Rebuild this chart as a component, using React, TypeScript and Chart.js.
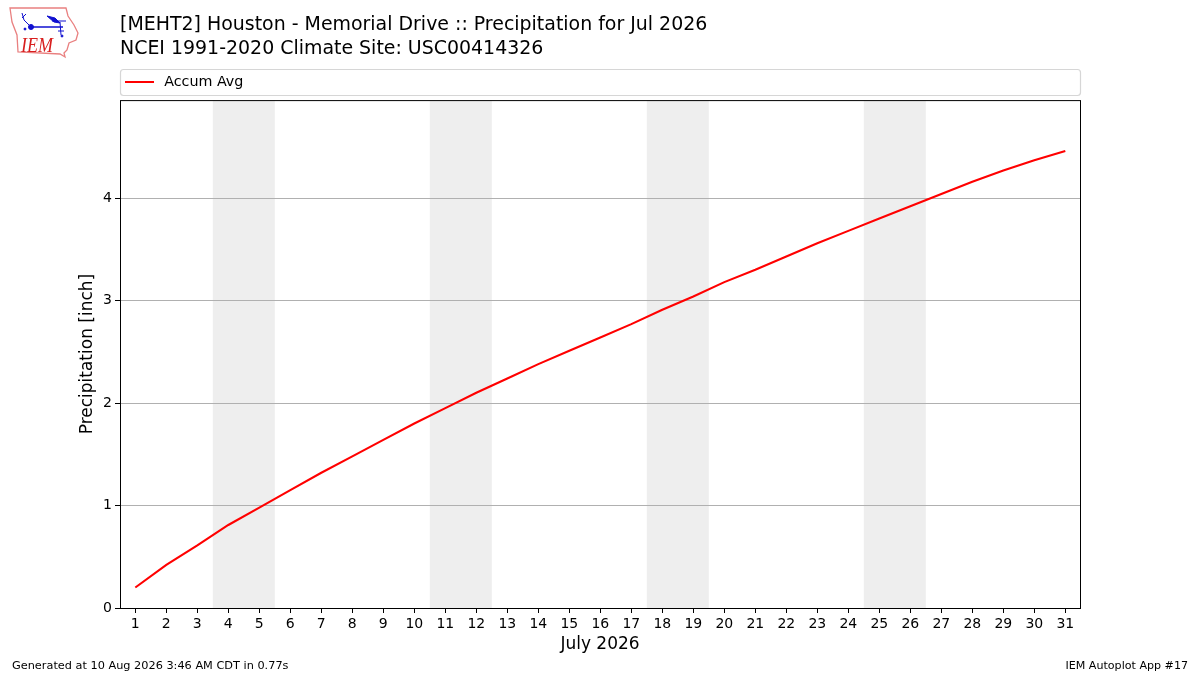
import React, { useEffect, useRef } from "react";
import { Chart, registerables } from "chart.js";

Chart.register(...registerables);

const days = [1,2,3,4,5,6,7,8,9,10,11,12,13,14,15,16,17,18,19,20,21,22,23,24,25,26,27,28,29,30,31];
const accumAvg = [0.20,0.42,0.61,0.81,0.98,1.15,1.32,1.48,1.64,1.80,1.95,2.10,2.24,2.38,2.51,2.64,2.77,2.91,3.04,3.18,3.30,3.43,3.56,3.68,3.80,3.92,4.04,4.16,4.27,4.37,4.46];
const weekendBands = [[3.5,5.5],[10.5,12.5],[17.5,19.5],[24.5,26.5]];
const yTicks = [0,1,2,3,4];
const titleLines = ["[MEHT2] Houston - Memorial Drive :: Precipitation for Jul 2026","NCEI 1991-2020 Climate Site: USC00414326"];
const seriesName = "Accum Avg";
const xTitle = "July 2026";
const yTitle = "Precipitation [inch]";
const footerLeft = "Generated at 10 Aug 2026 3:46 AM CDT in 0.77s";
const footerRight = "IEM Autoplot App #17";

const FONT = "'DejaVu Sans'";

const framePlugin = {
  id: "frame",
  afterLayout(chart: any) {
    const a = chart.chartArea;
    if (chart.titleBlock) chart.titleBlock.left = a.left;
    if (chart.legend) {
      chart.legend.left = a.left - 3;
      chart.legend.top -= 1;
    }
  },
  beforeDraw(chart: any) {
    const { ctx, chartArea: a, scales } = chart;
    ctx.save();
    ctx.fillStyle = "#fff";
    ctx.fillRect(0, 0, chart.width, chart.height);
    ctx.fillStyle = "#eeeeee";
    for (const [s, e] of weekendBands) {
      const x0 = scales.x.getPixelForValue(s);
      const x1 = scales.x.getPixelForValue(e);
      ctx.fillRect(x0, a.top, x1 - x0, a.bottom - a.top);
    }
    // legend frame
    ctx.strokeStyle = "#d6d6d6";
    ctx.lineWidth = 1.2;
    ctx.beginPath();
    ctx.roundRect(a.left + 0.5, 69.5, a.right - a.left, 26, 3);
    ctx.stroke();
    ctx.restore();
  },
  afterDraw(chart: any) {
    const { ctx, chartArea: a } = chart;
    ctx.save();
    ctx.strokeStyle = "#000";
    ctx.lineWidth = 1;
    ctx.strokeRect(a.left + 0.5, a.top + 0.5, a.right - a.left, a.bottom - a.top);
    ctx.fillStyle = "#000";
    ctx.font = `11.3px ${FONT}`;
    ctx.textBaseline = "alphabetic";
    ctx.textAlign = "left";
    ctx.fillText(footerLeft, 12, 669);
    ctx.textAlign = "right";
    ctx.font = `11.1px ${FONT}`;
    ctx.fillText(footerRight, 1188, 669);
    ctx.restore();
  },
};

function legendLine() {
  // 32 wide slot, the stroke fills the first 29 px (as the reference leaves a gap before the text)
  const c = document.createElement("canvas");
  c.width = 32;
  c.height = 2;
  const g = c.getContext("2d");
  if (g) {
    g.fillStyle = "#ff0000";
    g.fillRect(0, 0, 29, 2);
  }
  return c;
}

export default function App() {
  const ref = useRef<HTMLCanvasElement | null>(null);
  useEffect(() => {
    if (!ref.current) return;
    const chart = new Chart(ref.current, {
      type: "line",
      data: {
        datasets: [{
          label: seriesName,
          data: days.map((d, i) => ({ x: d, y: accumAvg[i] })),
          borderColor: "#ff0000",
          backgroundColor: "#ff0000",
          borderWidth: 2.1,
          pointRadius: 0,
          tension: 0,
          pointStyle: legendLine(),
        }],
      },
      plugins: [framePlugin],
      options: {
        animation: false,
        responsive: false,
        devicePixelRatio: 1,
        layout: { padding: { right: 120, top: 0, left: 0, bottom: 0 } },
        plugins: {
          tooltip: { enabled: false },
          title: {
            display: true,
            text: titleLines,
            align: "start",
            color: "#000",
            font: { family: FONT, size: 18.95, weight: "normal", lineHeight: 1.2665 },
            padding: { top: 13, bottom: 6.8 },
          },
          legend: {
            display: true,
            position: "top",
            align: "start",
            labels: {
              usePointStyle: true,
              pointStyleWidth: 32,
              boxHeight: 8,
              color: "#000",
              font: { family: FONT, size: 14.3 },
              padding: 8,
            },
          },
        },
        scales: {
          x: {
            type: "linear",
            min: 0.506,
            max: 31.474,
            afterBuildTicks(s: any) { s.ticks = days.map((v) => ({ value: v })); },
            afterFit(s: any) { s.height = 67; },
            grid: { drawOnChartArea: false, drawTicks: true, tickLength: 5, tickColor: "#000" },
            border: { display: false },
            ticks: { color: "#000", font: { family: FONT, size: 14 }, padding: 3, maxRotation: 0, autoSkip: false, callback: (v: any) => String(v) },
            title: { display: true, text: xTitle, color: "#000", font: { family: FONT, size: 17 }, padding: { top: 4, bottom: 20 } },
          },
          y: {
            type: "linear",
            min: 0,
            max: 4.956,
            afterBuildTicks(s: any) { s.ticks = yTicks.map((v) => ({ value: v })); },
            afterFit(s: any) { s.width = 120; },
            grid: { color: "#b0b0b0", lineWidth: 1, drawTicks: true, tickLength: 5, tickColor: "#000" },
            border: { display: false },
            ticks: { color: "#000", font: { family: FONT, size: 14 }, padding: 3, callback: (v: any) => String(v) },
            title: { display: true, text: yTitle, color: "#000", font: { family: FONT, size: 17 }, padding: { top: 77, bottom: 0 } },
          },
        },
      },
    } as any);
    return () => chart.destroy();
  }, []);
  return (
    <div style={{ position: "fixed", left: 0, top: 0, width: 1200, height: 675, background: "#fff" }}>
      <canvas ref={ref} width={1200} height={675} style={{ display: "block" }} />
      <svg width="90" height="60" style={{ position: "absolute", left: 0, top: 0 }}>
        <path d="M10 8 L66 8 L68 16 L74 25 L78 33 L76 40 L69 43 L67 50 L64 53 L65 57 L60 54 L18 52 L17 35 L12 22 Z" fill="#fff" stroke="#e98080" strokeWidth="1.3" />
        <g stroke="#1010d0" fill="#1010d0">
          <line x1="31" y1="27" x2="63" y2="27" strokeWidth="1.5" />
          <circle cx="31" cy="27" r="2.5" />
          <path d="M31 27 L24 20 L22 13 M22 18 L26 14" strokeWidth="1" fill="none" />
          <path d="M47 16 L55 18 L60 23 L54 22 Z" />
          <path d="M52 21 L66 21 M60 22 L61 35 M58 31 L64 31" strokeWidth="1" fill="none" />
          <circle cx="25" cy="29" r="1" />
          <circle cx="62" cy="36" r="1" />
        </g>
        <text x="21" y="52" fontFamily="'Liberation Serif'" fontStyle="italic" fontSize="21" textLength="32" lengthAdjust="spacingAndGlyphs" fill="#d81e1e">IEM</text>
      </svg>
    </div>
  );
}
